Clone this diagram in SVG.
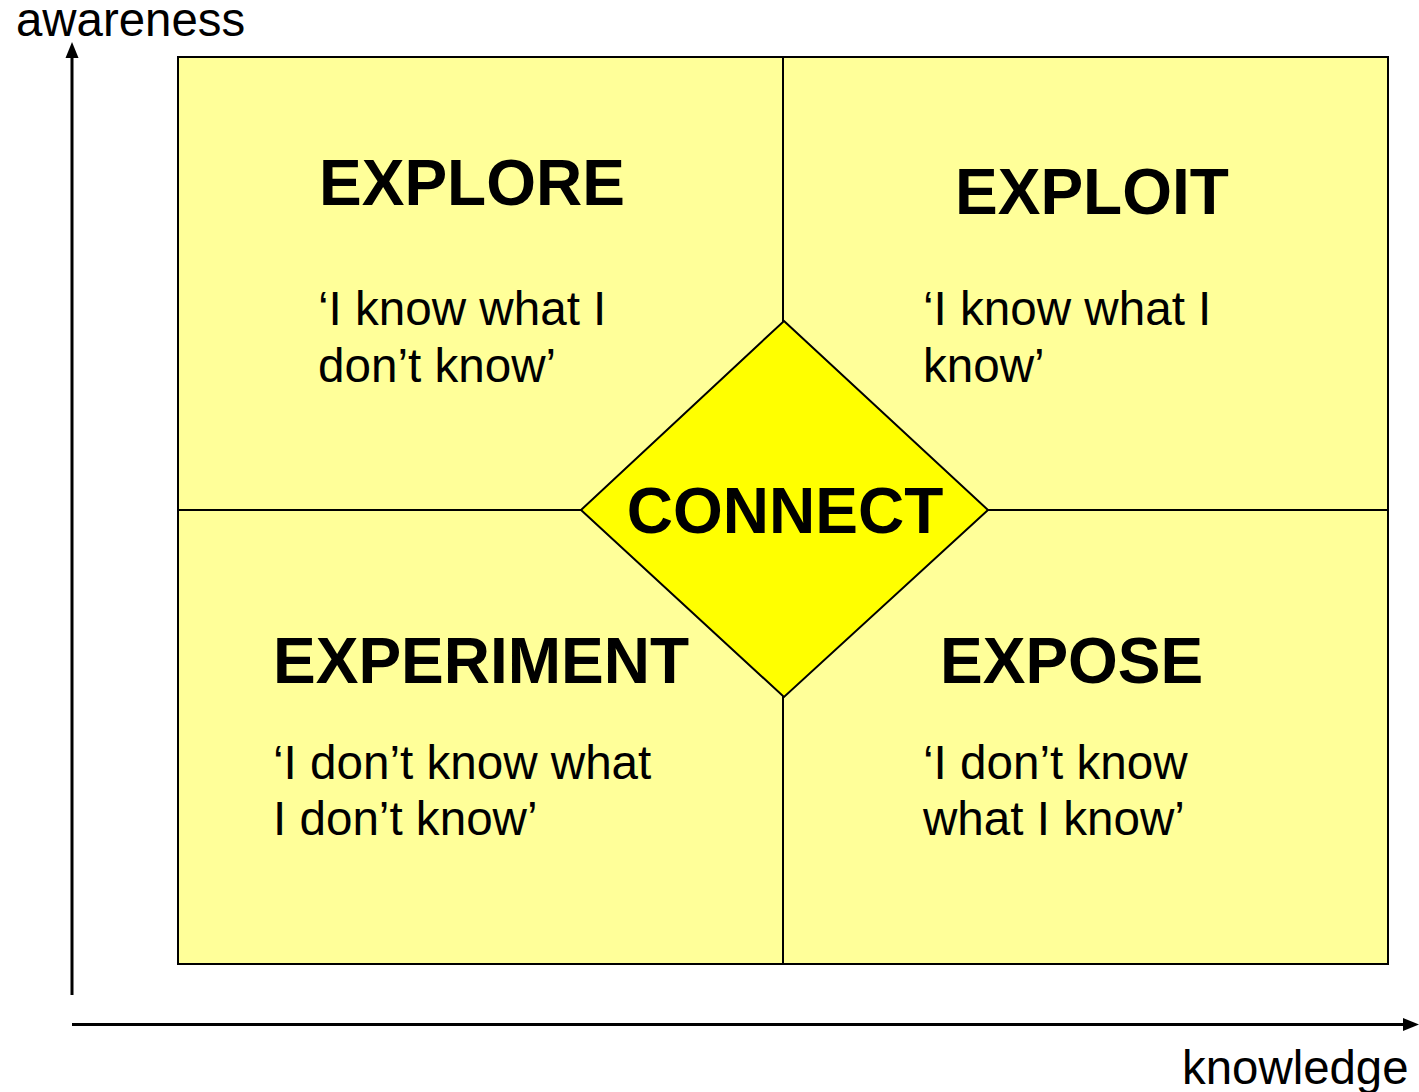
<svg xmlns="http://www.w3.org/2000/svg" width="1419" height="1092" viewBox="0 0 1419 1092">
<style>
.t{font-family:"Liberation Sans",Arial,sans-serif;fill:#000}
.h{font-size:64px;font-weight:bold}
.s{font-size:47.6px}
.ax{font-size:47.4px}
.q{fill:#FFFF99;stroke:#000;stroke-width:2}
.axis{stroke:#000;stroke-width:3;fill:none}
</style>
<rect width="1419" height="1092" fill="#fff"/>
<g id="axes">
<line class="axis" x1="72" y1="995" x2="72" y2="56"/>
<polygon points="72,42 65.5,58 78.5,58" fill="#000"/>
<line class="axis" x1="72" y1="1024.5" x2="1404" y2="1024.5"/>
<polygon points="1419,1024.5 1403,1018 1403,1031" fill="#000"/>
<text class="t ax" x="16" y="36">awareness</text>
<text class="t ax" x="1182" y="1084">knowledge</text>
</g>
<g id="explore">
<rect class="q" x="178" y="57" width="605" height="453"/>
<text class="t h" x="319" y="205">EXPLORE</text>
<text class="t s" x="318" y="325">‘I know what I</text>
<text class="t s" x="318" y="382">don’t know’</text>
</g>
<g id="exploit">
<rect class="q" x="783" y="57" width="605" height="453"/>
<text class="t h" x="955" y="214">EXPLOIT</text>
<text class="t s" x="923" y="325">‘I know what I</text>
<text class="t s" x="923" y="382">know’</text>
</g>
<g id="experiment">
<rect class="q" x="178" y="510" width="605" height="454"/>
<text class="t h" x="273" y="683">EXPERIMENT</text>
<text class="t s" x="273" y="779">‘I don’t know what</text>
<text class="t s" x="273" y="835">I don’t know’</text>
</g>
<g id="expose">
<rect class="q" x="783" y="510" width="605" height="454"/>
<text class="t h" x="940" y="683">EXPOSE</text>
<text class="t s" x="923" y="779">‘I don’t know</text>
<text class="t s" x="923" y="835">what I know’</text>
</g>
<g id="connect">
<polygon points="784,321 988,510 784,697 581,510" fill="#FFFF00" stroke="#000" stroke-width="2"/>
<text class="t h" x="785" y="533" text-anchor="middle">CONNECT</text>
</g>
</svg>
